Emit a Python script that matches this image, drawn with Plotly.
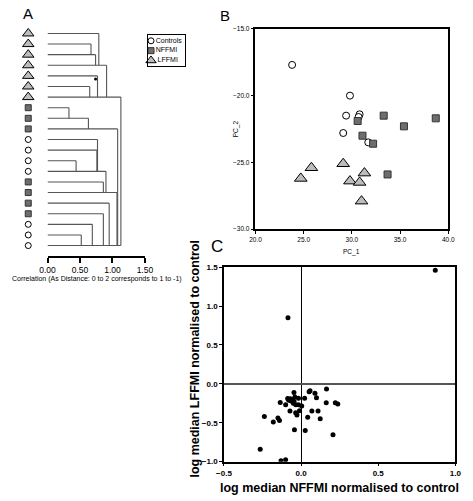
import plotly.graph_objects as go

W, H = 473, 501
def px(x):
    return x / W
def py(y):
    return 1 - y / H

FONT = "Liberation Sans, Arial, sans-serif"

# ---------------- Panel A: dendrogram ----------------
leaf_groups = ["LFFMI"] * 7 + ["NFFMI"] * 3 + ["Controls"] * 4 + ["NFFMI"] * 4 + ["Controls"] * 3
leaf_height = [0.79, 0.67, 0.74, 0.91, 0.77, 0.65, 1.13,
               0.33, 0.63, 1.08,
               0.77, 0.76, 0.44, 0.90,
               0.86, 1.07, 0.95, 0.86,
               0.69, 0.52, 1.13]
leaf_join = [4, 3, 4, 7, 7, 7, 21,
             9, 10, 21,
             14, 14, 14, 16,
             16, 21, 21, 21,
             21, 21, None]
dendro_dot_x = [0.74]
dendro_dot_y = [5.3]
dendro_ticks = [0.0, 0.5, 1.0, 1.5]
dendro_title = "Correlation (As Distance: 0 to 2 corresponds to 1 to -1)"

# ---------------- Panel B: PCA ----------------
ctrl_pc1 = [23.8, 29.8, 29.4, 30.8, 30.7, 29.1, 31.7]
ctrl_pc2 = [-17.7, -20.0, -21.5, -21.4, -21.6, -22.8, -23.5]
nffmi_pc1 = [30.6, 33.3, 35.4, 38.7, 31.1, 32.2, 33.7]
nffmi_pc2 = [-21.9, -21.5, -22.3, -21.7, -23.0, -23.6, -25.9]
lffmi_pc1 = [24.7, 25.8, 29.1, 29.8, 30.8, 31.3, 31.0]
lffmi_pc2 = [-26.2, -25.4, -25.1, -26.4, -26.5, -25.8, -27.9]

# ---------------- Panel C: log median ratios ----------------
nffmi_log = [0.87, -0.085,
             0.165, 0.058, 0.052, 0.09, -0.046,
             -0.087, -0.07, -0.056, -0.046, -0.04, -0.017, 0.023, 0.10,
             -0.135, -0.10, -0.08, -0.065, -0.05, -0.034, -0.017, 0.004, 0.163, 0.222, 0.238,
             -0.072, -0.035, -0.027, -0.01, 0.07, 0.11,
             -0.238, 0.043, 0.124, -0.15, -0.14, -0.18,
             -0.043, 0.027, 0.207, -0.265, -0.13, -0.10]
lffmi_log = [1.46, 0.85,
             -0.067, -0.09, -0.10, -0.12, -0.11,
             -0.188, -0.19, -0.20, -0.225, -0.17, -0.185, -0.185, -0.18,
             -0.24, -0.27, -0.21, -0.22, -0.25, -0.27, -0.27, -0.285, -0.242, -0.242, -0.259,
             -0.35, -0.37, -0.40, -0.345, -0.35, -0.35,
             -0.42, -0.43, -0.45, -0.44, -0.47, -0.49,
             -0.59, -0.60, -0.655, -0.84, -0.99, -0.975]

legend_labels = ["Controls", "NFFMI", "LFFMI"]

style = {
    "Controls": dict(symbol="circle", color="white", line=dict(color="black", width=1)),
    "NFFMI": dict(symbol="square", color="#6e6e6e", line=dict(color="#333333", width=1)),
    "LFFMI": dict(symbol="triangle-up", color="#bdbdbd", line=dict(color="black", width=1)),
}
size_a = {"Controls": 6, "NFFMI": 6, "LFFMI": 10}
size_b = {"Controls": 7, "NFFMI": 7, "LFFMI": 11}

fig = go.Figure()

# dendrogram lines
lx, ly = [], []
for i, (h, j) in enumerate(zip(leaf_height, leaf_join), start=1):
    lx += [0, h, None]
    ly += [i, i, None]
    if j is not None:
        lx += [h, h, None]
        ly += [i, j, None]
fig.add_trace(go.Scatter(x=lx, y=ly, mode="lines", line=dict(color="#555555", width=1.1),
                         xaxis="x", yaxis="y", showlegend=False, hoverinfo="skip"))
fig.add_trace(go.Scatter(x=dendro_dot_x, y=dendro_dot_y, mode="markers",
                         marker=dict(color="black", size=3), xaxis="x", yaxis="y",
                         showlegend=False))

# leaf symbols
for g in legend_labels:
    idx = [i + 1 for i, lg in enumerate(leaf_groups) if lg == g]
    fig.add_trace(go.Scatter(x=[1] * len(idx), y=idx, mode="markers",
                             marker=dict(size=size_a[g], **style[g]),
                             xaxis="x4", yaxis="y", showlegend=False))

# PCA
for g, xs, ys in [("Controls", ctrl_pc1, ctrl_pc2), ("NFFMI", nffmi_pc1, nffmi_pc2),
                  ("LFFMI", lffmi_pc1, lffmi_pc2)]:
    fig.add_trace(go.Scatter(x=xs, y=ys, mode="markers", name=g,
                             marker=dict(size=size_b[g], **style[g]),
                             xaxis="x2", yaxis="y2", showlegend=False))

# Panel C
fig.add_trace(go.Scatter(x=nffmi_log, y=lffmi_log, mode="markers",
                         marker=dict(color="black", size=5),
                         xaxis="x3", yaxis="y3", showlegend=False))

# custom legend for panel A
for k, g in enumerate(legend_labels):
    fig.add_trace(go.Scatter(x=[0.55], y=[k], mode="markers+text", text=[g],
                             textposition="middle right",
                             textfont=dict(family=FONT, size=7, color="#000000"),
                             marker=dict(size=size_a[g] if g != "LFFMI" else 9, **style[g]),
                             xaxis="x5", yaxis="y5", showlegend=False, cliponaxis=False))

common_box = dict(showline=True, linecolor="black", linewidth=1.5, mirror=True,
                  showgrid=False, zeroline=False, ticks="outside", ticklen=3,
                  tickwidth=1, tickcolor="black")

fig.update_layout(
    width=W, height=H, margin=dict(l=0, r=0, t=0, b=0),
    paper_bgcolor="white", plot_bgcolor="white",
    font=dict(family=FONT, color="black"),
    showlegend=False,
    xaxis=dict(domain=[px(41), px(142)], range=[0, 1.5], anchor="y",
               tickvals=dendro_ticks, tickformat=".2f", ticks="outside", ticklen=5,
               tickwidth=1.5, tickcolor="black", showline=True, linecolor="black",
               linewidth=1.5, showgrid=False, zeroline=False,
               tickfont=dict(size=8.5)),
    yaxis=dict(domain=[py(257), py(20)], range=[22.02, 0.074], visible=False),
    xaxis4=dict(domain=[px(10), px(32)], range=[0, 2], anchor="y", visible=False),
    xaxis2=dict(domain=[px(256.7), px(456.7)], range=[20, 40], anchor="y2",
                dtick=5, tick0=20, tickformat=".1f", tickfont=dict(size=6.5), **common_box),
    yaxis2=dict(domain=[py(229.3), py(25.3)], range=[-30, -15], anchor="x2",
                dtick=5, tick0=-30, tickformat=".1f", tickfont=dict(size=6.5), **common_box),
    xaxis3=dict(domain=[px(224), px(464)], range=[-0.5, 1.0], anchor="y3",
                dtick=0.5, tick0=-0.5, tickformat=".1f",
                tickfont=dict(size=8, weight="bold"),
                **{**common_box, "zeroline": True, "zerolinecolor": "black", "zerolinewidth": 1.3}),
    yaxis3=dict(domain=[py(466), py(268)], range=[-1.0, 1.5], anchor="x3",
                dtick=0.5, tick0=-1.0, tickformat=".1f",
                tickfont=dict(size=8, weight="bold"),
                **{**common_box, "zeroline": True, "zerolinecolor": "#555555", "zerolinewidth": 1.5}),
    xaxis5=dict(domain=[px(145.7), px(184)], range=[0, 8], anchor="y5",
                showline=True, mirror=True, linecolor="black", linewidth=1,
                showticklabels=False, ticks="", showgrid=False, zeroline=False, fixedrange=True),
    yaxis5=dict(domain=[py(63), py(32)], range=[2.55, -0.55], anchor="x5",
                showline=True, mirror=True, linecolor="black", linewidth=1,
                showticklabels=False, ticks="", showgrid=False, zeroline=False, fixedrange=True),
)

ann = [
    dict(text="A", x=px(21), y=py(10), font=dict(size=15)),
    dict(text="B", x=px(225), y=py(12), font=dict(size=15)),
    dict(text="C", x=px(217), y=py(247), font=dict(size=17)),
    dict(text=dendro_title, x=px(92), y=py(280), font=dict(size=7)),
    dict(text="PC_1", x=px(356), y=py(253), font=dict(size=6.5)),
    dict(text="PC_2", x=px(236), y=py(127), font=dict(size=6.5), textangle=-90),
    dict(text="<b>log median NFFMI normalised to control</b>", x=px(344), y=py(493),
         font=dict(size=12.5)),
    dict(text="<b>log median LFFMI normalised to control</b>", x=px(193), y=py(361),
         font=dict(size=12.5), textangle=-90),
]
for a in ann:
    a.update(xref="paper", yref="paper", showarrow=False, xanchor="center", yanchor="middle")
    a.setdefault("font", {})
    a["font"].update(family=FONT, color="black")
fig.update_layout(annotations=ann)

fig.write_html("out.html", config={"displayModeBar": False},
               post_script="document.body.style.margin='0';document.body.style.overflow='hidden';")
